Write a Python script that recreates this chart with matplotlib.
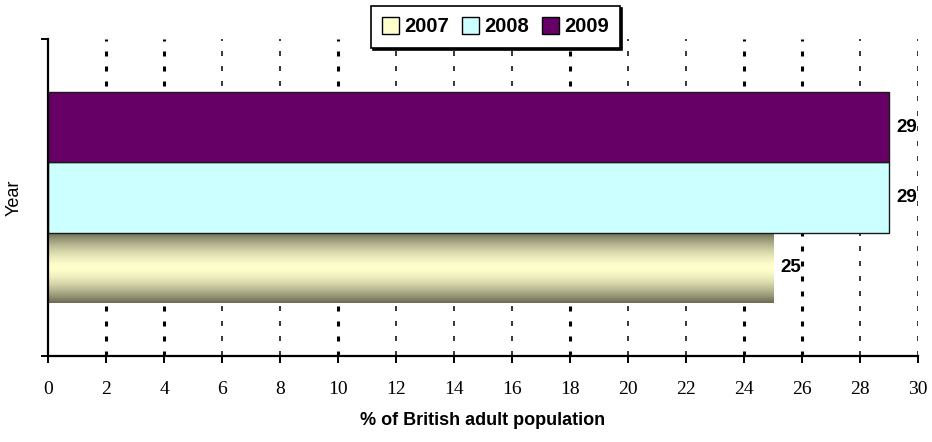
import numpy as np
import matplotlib
matplotlib.use("Agg")
import matplotlib.pyplot as plt
from matplotlib.patches import Patch
from matplotlib.colors import to_rgb

plt.rcParams['lines.scale_dashes'] = False

years = ["2007", "2008", "2009"]
values = [25, 29, 29]
colors = ["#ffffcc", "#ccffff", "#660066"]
xticks = list(range(0, 32, 2))
thick_grid = [2, 4, 10, 18, 24, 26]

fig = plt.figure(figsize=(9.32, 4.42), dpi=100)
ax = fig.add_axes([0.0515, 0.1946, 0.9335, 0.7172])

ax.set_xlim(0, 30)
ax.set_ylim(-0.5, 0.5)

# gridlines
for x in xticks[1:]:
    if x in thick_grid:
        ax.axvline(x, color="black", lw=2.2, dashes=(3.6, 7.2), zorder=1)
    else:
        ax.axvline(x, color="black", lw=1.1, dashes=(3.6, 7.2), zorder=1)

h = 0.222
n = len(years)
for i, (yr, v, c) in enumerate(zip(years, values, colors)):
    yc = (i - (n - 1) / 2) * h
    if i == 0:
        bar = ax.barh(yc, v, height=h, color="none", edgecolor="none", zorder=3)[0]
        # gradient fill
        t = np.linspace(0, 1, 200)
        f = np.abs(2 * t - 1) ** 1.6
        light = np.array(to_rgb("#ffffcc"))
        dark = np.array(to_rgb("#6b6a52"))
        grad = light[None, :] * (1 - f[:, None]) + dark[None, :] * f[:, None]
        img = np.repeat(grad[:, None, :], 2, axis=1)
        im = ax.imshow(img, extent=[0, v, yc - h / 2, yc + h / 2], aspect="auto",
                       zorder=2.5, interpolation="bilinear")
        im.set_clip_path(bar)
    else:
        ax.barh(yc, v, height=h, color=c, edgecolor="#1a1a1a", lw=1.0, zorder=3)
    ax.text(v + 0.24, yc, str(v), ha="left", va="center", fontsize=13.5,
            fontweight="bold", family="Liberation Sans", zorder=5)

ax.set_xlim(0, 30)
ax.set_ylim(-0.5, 0.5)

for s in ["top", "right"]:
    ax.spines[s].set_visible(False)
for s in ["left", "bottom"]:
    ax.spines[s].set_linewidth(1.6)
    ax.spines[s].set_zorder(6)

ax.set_xticks(xticks)
ax.set_xticklabels([str(x) for x in xticks], family="Liberation Serif", fontsize=14)
ax.set_yticks([-0.5, 0.5])
ax.set_yticklabels([])
ax.tick_params(axis="x", direction="out", length=5, width=1.4, pad=13)
ax.tick_params(axis="y", direction="out", length=5, width=1.4)

ax.set_xlabel("% of British adult population", family="Liberation Sans",
              fontsize=13, fontweight="bold", labelpad=10)
ax.set_ylabel("Year", family="Liberation Sans", fontsize=13, labelpad=10)

handles = [Patch(facecolor=c, edgecolor="black", lw=1.0) for c in colors]
leg = fig.legend(handles, years, loc="center", bbox_to_anchor=(0.532, 0.939),
                 ncol=3, frameon=True, fancybox=False,
                 shadow={"color": "black", "alpha": 1, "ox": 1.5, "oy": -1.5},
                 prop={"family": "Liberation Sans", "weight": "bold", "size": 14.5},
                 handlelength=0.85, handleheight=0.85, handletextpad=0.25,
                 columnspacing=0.65, borderpad=0.55, borderaxespad=0)
leg.get_frame().set_edgecolor("black")
leg.get_frame().set_linewidth(1.2)
leg.get_frame().set_facecolor("white")
leg.set_zorder(10)

fig.savefig("out.png", dpi=100)
